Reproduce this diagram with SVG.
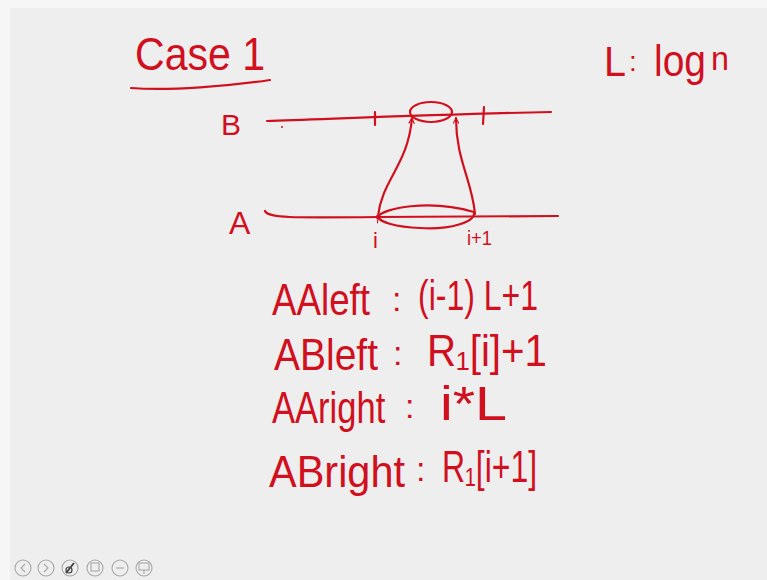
<svg xmlns="http://www.w3.org/2000/svg" width="767" height="580" viewBox="0 0 767 580">
<defs>
<style>
.ink{fill:none;stroke:#d0101e;stroke-width:2.2;stroke-linecap:round;stroke-linejoin:round}
.t{fill:#d0101e;font-family:"Liberation Sans","DejaVu Sans",sans-serif}
.c{fill:#d0101e;font-family:"Liberation Sans","DejaVu Sans",sans-serif;font-size:34px}
.ic{fill:none;stroke:#a8a8a8;stroke-width:1.1}
</style>
<marker id="ah" viewBox="0 0 10 10" refX="9" refY="5" markerWidth="7" markerHeight="7" orient="auto-start-reverse" markerUnits="userSpaceOnUse">
<path d="M1,1 L9,5 L1,9" fill="none" stroke="#d0101e" stroke-width="1.6"/>
</marker>
</defs>
<rect width="767" height="580" fill="#f6f6f6"/>
<rect x="10" y="8" width="757" height="572" fill="#eeeeee"/>

<g id="title">
<text class="t" x="135" y="70" font-size="46" textLength="130" lengthAdjust="spacingAndGlyphs">Case 1</text>
<path class="ink" d="M131,88 C170,91 230,86 270,80"/>
</g>
<g id="def">
<text class="t" x="604" y="76" font-size="42" textLength="22" lengthAdjust="spacingAndGlyphs">L</text>
<text class="t" x="629" y="71" font-size="28">:</text>
<text class="t" x="654" y="76" font-size="44" textLength="52" lengthAdjust="spacingAndGlyphs">log</text>
<text class="t" x="711" y="70" font-size="34" textLength="18" lengthAdjust="spacingAndGlyphs">n</text>
</g>

<g id="lineB">
<text class="t" x="221" y="135" font-size="30">B</text>
<path class="ink" d="M267,121 C330,119 450,114 551,112"/>
<path class="ink" d="M375,112 L375,125 M484,107 L483,124"/>
<circle cx="282" cy="127" r="1" fill="#d0101e"/>
<ellipse class="ink" cx="431" cy="112" rx="21" ry="10"/>
</g>
<g id="lineA">
<text class="t" x="229" y="234" font-size="32">A</text>
<path class="ink" d="M265,211 C268,218 290,218 378,217 L558,216"/>
<circle cx="378" cy="217" r="2.2" fill="#d0101e"/>
<path class="ink" d="M378,217 C382,208 430,199 474,212 C476,222 450,230 420,228 C395,227 380,222 378,217" marker-end="url(#ah)"/>
<text class="t" x="373" y="248" font-size="22">i</text>
<text class="t" x="467" y="245" font-size="21" textLength="25" lengthAdjust="spacingAndGlyphs">i+1</text>
</g>

<g id="connectors">
<path class="ink" d="M378,216 C382,180 408,165 412,118" marker-end="url(#ah)"/>
<path class="ink" d="M475,214 C472,180 456,160 456,118" marker-end="url(#ah)"/>
</g>

<g id="formulas">
<text class="t" x="272" y="315" font-size="44" textLength="98" lengthAdjust="spacingAndGlyphs">AAleft</text>
<text class="c" x="392" y="311">:</text>
<text class="t" x="418" y="310" font-size="42" textLength="120" lengthAdjust="spacingAndGlyphs">(i-1) L+1</text>

<text class="t" x="274" y="370" font-size="44" textLength="104" lengthAdjust="spacingAndGlyphs">ABleft</text>
<text class="c" x="393" y="365">:</text>
<text class="t" x="427" y="366" font-size="44" textLength="120" lengthAdjust="spacingAndGlyphs">R₁[i]+1</text>

<text class="t" transform="translate(272,423) scale(0.785,1)" font-size="44">AAright</text>
<text class="c" x="405" y="418">:</text>
<text class="t" x="440" y="420" font-size="48" textLength="67" lengthAdjust="spacingAndGlyphs">i*L</text>

<text class="t" x="269" y="487" font-size="44" textLength="136" lengthAdjust="spacingAndGlyphs">ABright</text>
<text class="c" x="416" y="481">:</text>
<text class="t" x="442" y="482" font-size="44" textLength="95" lengthAdjust="spacingAndGlyphs">R₁[i+1]</text>
</g>

<g id="toolbar">
<circle class="ic" cx="23" cy="568" r="8"/><path class="ic" d="M25,564 L21,568 L25,572"/>
<circle class="ic" cx="46" cy="568" r="8"/><path class="ic" d="M44,564 L48,568 L44,572"/>
<circle class="ic" cx="70" cy="568" r="8"/><path d="M66,573 L74,563" stroke="#444" stroke-width="2"/><circle cx="69" cy="570" r="3" fill="none" stroke="#444" stroke-width="1.2"/>
<circle class="ic" cx="95" cy="568" r="8"/><rect class="ic" x="91" y="563" width="8" height="8"/>
<circle class="ic" cx="120" cy="568" r="8"/><path class="ic" d="M116,568 h8"/>
<circle class="ic" cx="144" cy="568" r="8"/><rect class="ic" x="139" y="563" width="10" height="7"/><path class="ic" d="M144,570 v4"/>
</g>
</svg>
